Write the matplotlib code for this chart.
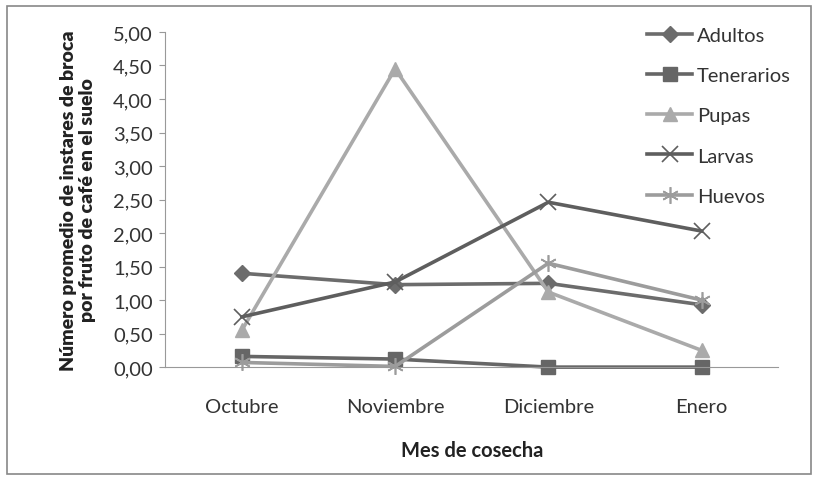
import matplotlib
matplotlib.use("Agg")
import matplotlib.pyplot as plt
from matplotlib.patches import Rectangle
from matplotlib.ticker import FuncFormatter

meses = ["Octubre", "Noviembre", "Diciembre", "Enero"]
adultos = [1.40, 1.23, 1.25, 0.93]
tenerarios = [0.16, 0.12, 0.0, 0.0]
pupas = [0.55, 4.45, 1.12, 0.25]
larvas = [0.75, 1.27, 2.46, 2.03]
huevos = [0.07, 0.01, 1.55, 1.00]

plt.rcParams['font.family'] = ['Lato', 'DejaVu Sans']

fig = plt.figure(figsize=(8.14, 4.85), dpi=100)
ax = fig.add_axes([0.203, 0.241, 0.753, 0.691])

x = range(len(meses))
ax.plot(x, adultos, color="#6c6c6c", lw=2.6, marker="D", ms=8, label="Adultos", clip_on=False)
ax.plot(x, tenerarios, color="#666666", lw=2.6, marker="s", ms=10, label="Tenerarios", clip_on=False)
ax.plot(x, pupas, color="#aaaaaa", lw=2.6, marker="^", ms=10, label="Pupas", clip_on=False)
ax.plot(x, larvas, color="#5e5e5e", lw=2.6, marker="x", ms=11, mew=1.2, label="Larvas", clip_on=False)
ax.plot(x, huevos, color="#9c9c9c", lw=2.6, marker=(6, 2, 0), ms=12, mew=1.2, label="Huevos",
        clip_on=False)

ax.set_xlim(-0.5, 3.5)
ax.set_ylim(0, 5)
ax.set_yticks([i * 0.5 for i in range(11)])
ax.yaxis.set_major_formatter(FuncFormatter(lambda v, p: f"{v:.2f}".replace(".", ",")))
ax.set_xticks(list(x))
ax.set_xticklabels(meses)
ax.tick_params(axis="x", length=0, pad=22, labelsize=14.5, colors="#333333")
ax.tick_params(axis="y", length=4, color="#999999", labelsize=14.5, colors="#333333", pad=5)
for s in ["top", "right"]:
    ax.spines[s].set_visible(False)
for s in ["left", "bottom"]:
    ax.spines[s].set_color("#999999")

ax.set_xlabel("Mes de cosecha", fontsize=14.5, fontweight="bold", color="#222222", labelpad=18)
ax.set_ylabel("Número promedio de instares de broca\npor fruto de café en el suelo",
              fontsize=14, fontweight="heavy", color="#222222", labelpad=12, linespacing=1.2)

ax.legend(loc="upper left", bbox_to_anchor=(0.757, 1.07), frameon=False, fontsize=14.5,
          labelspacing=1.15, handlelength=2.2, handletextpad=0.25, labelcolor="#333333")

fig.patches.append(Rectangle((0.008, 0.02), 0.988, 0.965, transform=fig.transFigure,
                             fill=False, edgecolor="#888888", lw=1.2))

fig.savefig("out.png", dpi=100)
